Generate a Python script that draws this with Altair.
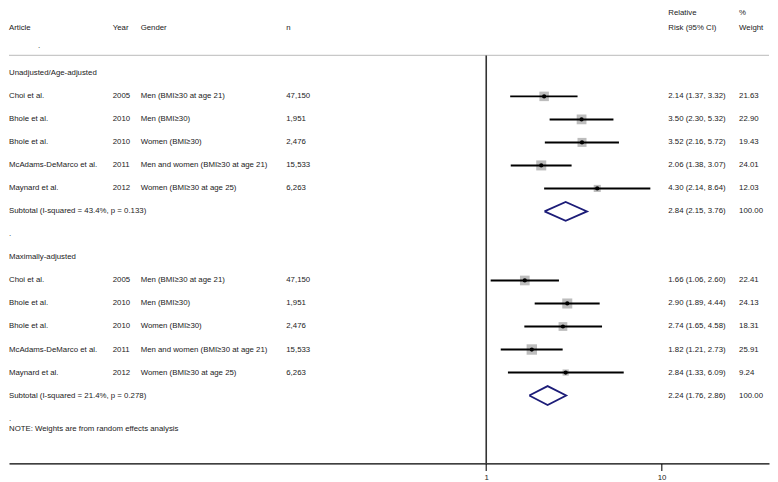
import altair as alt
import pandas as pd

# ---------------- data ----------------
articles = ["Choi et al.", "Bhole et al.", "Bhole et al.", "McAdams-DeMarco et al.", "Maynard et al."]
years = ["2005", "2010", "2010", "2011", "2012"]
genders = ["Men (BMI≥30 at age 21)", "Men (BMI≥30)", "Women (BMI≥30)",
           "Men and women (BMI≥30 at age 21)", "Women (BMI≥30 at age 25)"]
ns = ["47,150", "1,951", "2,476", "15,533", "6,263"]

unadj_rr = [2.14, 3.50, 3.52, 2.06, 4.30]
unadj_lo = [1.37, 2.30, 2.16, 1.38, 2.14]
unadj_hi = [3.32, 5.32, 5.72, 3.07, 8.64]
unadj_w = [21.63, 22.90, 19.43, 24.01, 12.03]

adj_rr = [1.66, 2.90, 2.74, 1.82, 2.84]
adj_lo = [1.06, 1.89, 1.65, 1.21, 1.33]
adj_hi = [2.60, 4.44, 4.58, 2.73, 6.09]
adj_w = [22.41, 24.13, 18.31, 25.91, 9.24]

section_labels = ["Unadjusted/Age-adjusted", "Maximally-adjusted"]
subtotal_labels = ["Subtotal  (I-squared = 43.4%, p = 0.133)", "Subtotal  (I-squared = 21.4%, p = 0.278)"]
subtotal_rr = [2.84, 2.24]
subtotal_lo = [2.15, 1.76]
subtotal_hi = [3.76, 2.86]
subtotal_w = [100.00, 100.00]
note_text = "NOTE: Weights are from random effects analysis"
axis_ticks = [1, 10]

# ---------------- tables ----------------
study_rows = []
for g, (rr, lo, hi, w) in enumerate([(unadj_rr, unadj_lo, unadj_hi, unadj_w),
                                      (adj_rr, adj_lo, adj_hi, adj_w)]):
    for i in range(5):
        study_rows.append(dict(row=1 + i + 8 * g, article=articles[i], year=years[i],
                               gender=genders[i], n=ns[i], rr=rr[i], lo=lo[i], hi=hi[i],
                               w=w[i], ci=f"{rr[i]:.2f} ({lo[i]:.2f}, {hi[i]:.2f})",
                               wt=f"{w[i]:.2f}"))
studies = pd.DataFrame(study_rows)

sub_rows = []
diamond_pts = []
for g in range(2):
    r = 6 + 8 * g
    sub_rows.append(dict(row=r, label=subtotal_labels[g],
                         ci=f"{subtotal_rr[g]:.2f} ({subtotal_lo[g]:.2f}, {subtotal_hi[g]:.2f})",
                         wt=f"{subtotal_w[g]:.2f}"))
    pts = [(subtotal_lo[g], r), (subtotal_rr[g], r - 0.41), (subtotal_hi[g], r),
           (subtotal_rr[g], r + 0.41), (subtotal_lo[g], r)]
    for k, (xv, yv) in enumerate(pts):
        diamond_pts.append(dict(grp=g, ord=k, x=xv, y=yv))
subs = pd.DataFrame(sub_rows)
diamonds = pd.DataFrame(diamond_pts)

left_text = pd.DataFrame([
    dict(row=0, t=section_labels[0]),
    dict(row=7, t="."),
    dict(row=8, t=section_labels[1]),
    dict(row=15, t="."),
    dict(row=15.45, t=note_text),
])

FONT = "Liberation Sans"
FS = 7.85
TXT = "#222222"
W, H = 762, 455
Y_TOP, Y_BOT = -2.77, 16.95
LINE_Y = -0.78

xscale = alt.Scale(type="log", domain=[0.001891, 41.08], nice=False)
yscale = alt.Scale(domain=[Y_TOP, Y_BOT], reverse=True, nice=False, zero=False)
xaxis = alt.Axis(values=axis_ticks, format="d", title=None, grid=False, tickSize=7,
                 domainColor="#000000", domainWidth=1.3, tickColor="#333333", tickWidth=1.3,
                 labelFont=FONT, labelFontSize=FS, labelColor=TXT, labelPadding=3,
                 labelFlush=False)
yenc = alt.Y("row:Q", scale=yscale, axis=None)


def tcol(df, field, xpx):
    return alt.Chart(df).mark_text(align="left", baseline="middle", font=FONT,
                                   fontSize=FS, color=TXT).encode(
        x=alt.value(xpx), y=yenc, text=f"{field}:N")


# header
header = pd.DataFrame([
    dict(row=-1.99, t="Article", x=0), dict(row=-1.99, t="Year", x=104),
    dict(row=-1.99, t="Gender", x=132), dict(row=-1.99, t="n", x=278),
    dict(row=-2.62, t="Relative", x=661), dict(row=-1.99, t="Risk (95% CI)", x=661),
    dict(row=-2.62, t="%", x=732), dict(row=-1.99, t="Weight", x=732),
    dict(row=-1.21, t=".", x=29),
])
header_layer = alt.Chart(header).mark_text(align="left", baseline="middle", font=FONT,
                                           fontSize=FS, color=TXT).encode(
    x=alt.X("x:Q", scale=None), y=yenc, text="t:N")

top_line = alt.Chart(pd.DataFrame({"row": [LINE_Y]})).mark_rule(
    color="#c8c8c8", strokeWidth=1.3).encode(x=alt.value(0), x2=alt.value(W), y=yenc)

null_line = alt.Chart(pd.DataFrame({"v": [1], "row": [LINE_Y], "row2": [Y_BOT]})).mark_rule(
    color="#333333", strokeWidth=1.6).encode(
    x=alt.X("v:Q", scale=xscale, axis=xaxis), y=yenc, y2="row2:Q")

squares = alt.Chart(studies).mark_square(color="#bdbdbd", opacity=1).encode(
    x=alt.X("rr:Q", scale=xscale, axis=xaxis), y=yenc,
    size=alt.Size("w:Q", scale=alt.Scale(domain=[0, 25], range=[0, 105]), legend=None))

ci_lines = alt.Chart(studies).mark_rule(color="#000000", strokeWidth=2).encode(
    x=alt.X("lo:Q", scale=xscale, axis=xaxis), x2="hi:Q", y=yenc)

dots = alt.Chart(studies).mark_point(shape="circle", filled=True, color="#000000",
                                     opacity=1, size=18).encode(
    x=alt.X("rr:Q", scale=xscale, axis=xaxis), y=yenc)

diamond_layer = alt.Chart(diamonds).mark_line(color="#1c1c78", strokeWidth=1.8).encode(
    x=alt.X("x:Q", scale=xscale, axis=xaxis),
    y=alt.Y("y:Q", scale=yscale, axis=None),
    detail="grp:N", order="ord:Q")

layers = [
    top_line, null_line, squares, ci_lines, dots, diamond_layer, header_layer,
    tcol(studies, "article", 0), tcol(studies, "year", 104), tcol(studies, "gender", 132),
    tcol(studies, "n", 278), tcol(studies, "ci", 661), tcol(studies, "wt", 732),
    tcol(subs, "label", 0), tcol(subs, "ci", 661), tcol(subs, "wt", 732),
    tcol(left_text, "t", 0),
]

chart = alt.layer(*layers).properties(width=W, height=H, padding=0).configure_view(stroke=None)

chart.save("out.html", embed_options={"renderer": "svg", "actions": False})
